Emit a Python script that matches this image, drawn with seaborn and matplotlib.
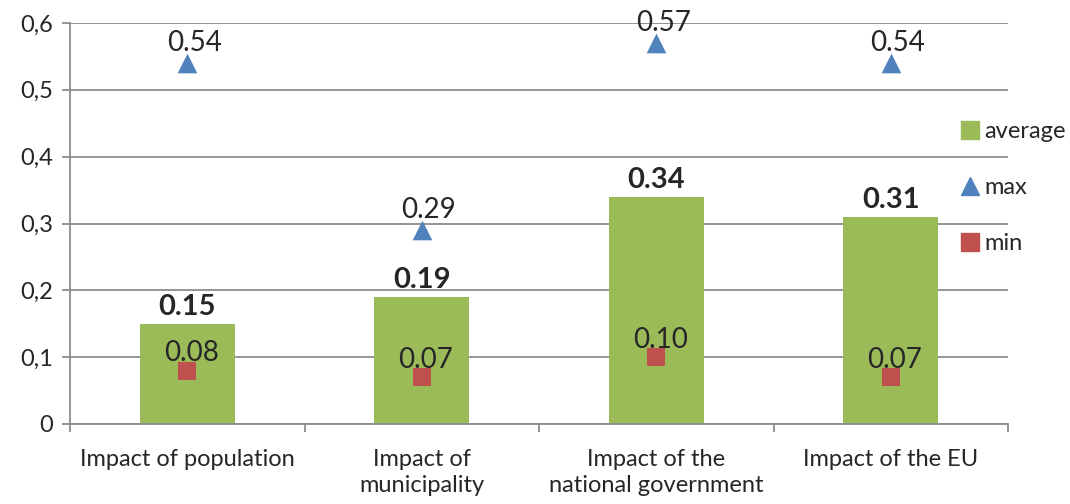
import matplotlib
matplotlib.use("Agg")
import matplotlib.pyplot as plt
from matplotlib.ticker import FuncFormatter, FixedLocator
from matplotlib.lines import Line2D
import seaborn as sns
import pandas as pd
import numpy as np

categories = ["Impact of population", "Impact of\nmunicipality",
              "Impact of the\nnational government", "Impact of the EU"]
average = [0.15, 0.19, 0.34, 0.31]
maximum = [0.54, 0.29, 0.57, 0.54]
minimum = [0.08, 0.07, 0.10, 0.07]

GREEN = "#9BBB59"
BLUE = "#4F81BD"
RED = "#C0504D"

sns.set_style("white")
plt.rcParams["font.family"] = ["Lato", "DejaVu Sans"]

df = pd.DataFrame({"category": categories, "average": average,
                   "max": maximum, "min": minimum})

fig = plt.figure(figsize=(10.7, 5.04), dpi=100)
ax = fig.add_axes([70/1070, 1 - 424/504, 938/1070, (424-23)/504])

sns.barplot(data=df, x="category", y="average", color=GREEN, width=0.405,
            saturation=1, ax=ax, zorder=2, edgecolor=GREEN, linewidth=0)
xs = np.arange(len(categories))
ax.scatter(xs, maximum, marker="^", s=200, color=BLUE, zorder=4, linewidths=0)
ax.scatter(xs, minimum, marker="s", s=180, color=RED, zorder=4, linewidths=0)

for x, v in zip(xs, average):
    ax.annotate(f"{v:.2f}", (x, v), xytext=(0, 3), textcoords="offset points",
                ha="center", va="bottom", fontsize=21, fontweight="bold")
for x, v in zip(xs, maximum):
    ax.annotate(f"{v:.2f}", (x, v), xytext=(5, 5), textcoords="offset points",
                ha="center", va="bottom", fontsize=20)
for x, v in zip(xs, minimum):
    ax.annotate(f"{v:.2f}", (x, v), xytext=(3, 3), textcoords="offset points",
                ha="center", va="bottom", fontsize=20)

ax.set_xlim(-0.5, len(categories) - 0.5)
ax.set_ylim(0, 0.6)
ax.yaxis.set_major_locator(FixedLocator([0, 0.1, 0.2, 0.3, 0.4, 0.5, 0.6]))
ax.yaxis.set_major_formatter(FuncFormatter(
    lambda v, p: "0" if abs(v) < 1e-9 else f"{v:.1f}".replace(".", ",")))
ax.grid(axis="y", color="#8C8C8C", linewidth=1.3, zorder=0)
ax.set_axisbelow(True)
ax.set_xlabel("")
ax.set_ylabel("")
for s in ["top", "right"]:
    ax.spines[s].set_visible(False)
for s in ["left", "bottom"]:
    ax.spines[s].set_color("#8C8C8C")
    ax.spines[s].set_linewidth(1.3)
ax.tick_params(axis="y", which="major", length=6, width=1.3, color="#8C8C8C",
               labelsize=17, pad=6, left=True)
ax.tick_params(axis="x", which="major", length=0, labelsize=17, pad=18)
ax.xaxis.set_minor_locator(FixedLocator(np.arange(-0.5, len(categories), 1)))
ax.tick_params(axis="x", which="minor", length=6, width=1.3, color="#8C8C8C",
               bottom=True)
for lbl in ax.get_xticklabels():
    lbl.set_verticalalignment("top")
    lbl.set_linespacing(1.3)

handles = [
    Line2D([], [], marker="s", linestyle="", color=GREEN, markersize=13),
    Line2D([], [], marker="^", linestyle="", color=BLUE, markersize=13),
    Line2D([], [], marker="s", linestyle="", color=RED, markersize=13),
]
fig.legend(handles, ["average", "max", "min"], loc="upper left",
           bbox_to_anchor=(948/1070, 1 - 112/504), frameon=False,
           fontsize=17, labelspacing=1.48, handletextpad=0.05,
           handlelength=1.1, borderaxespad=0)

fig.savefig("out.png", dpi=100)
